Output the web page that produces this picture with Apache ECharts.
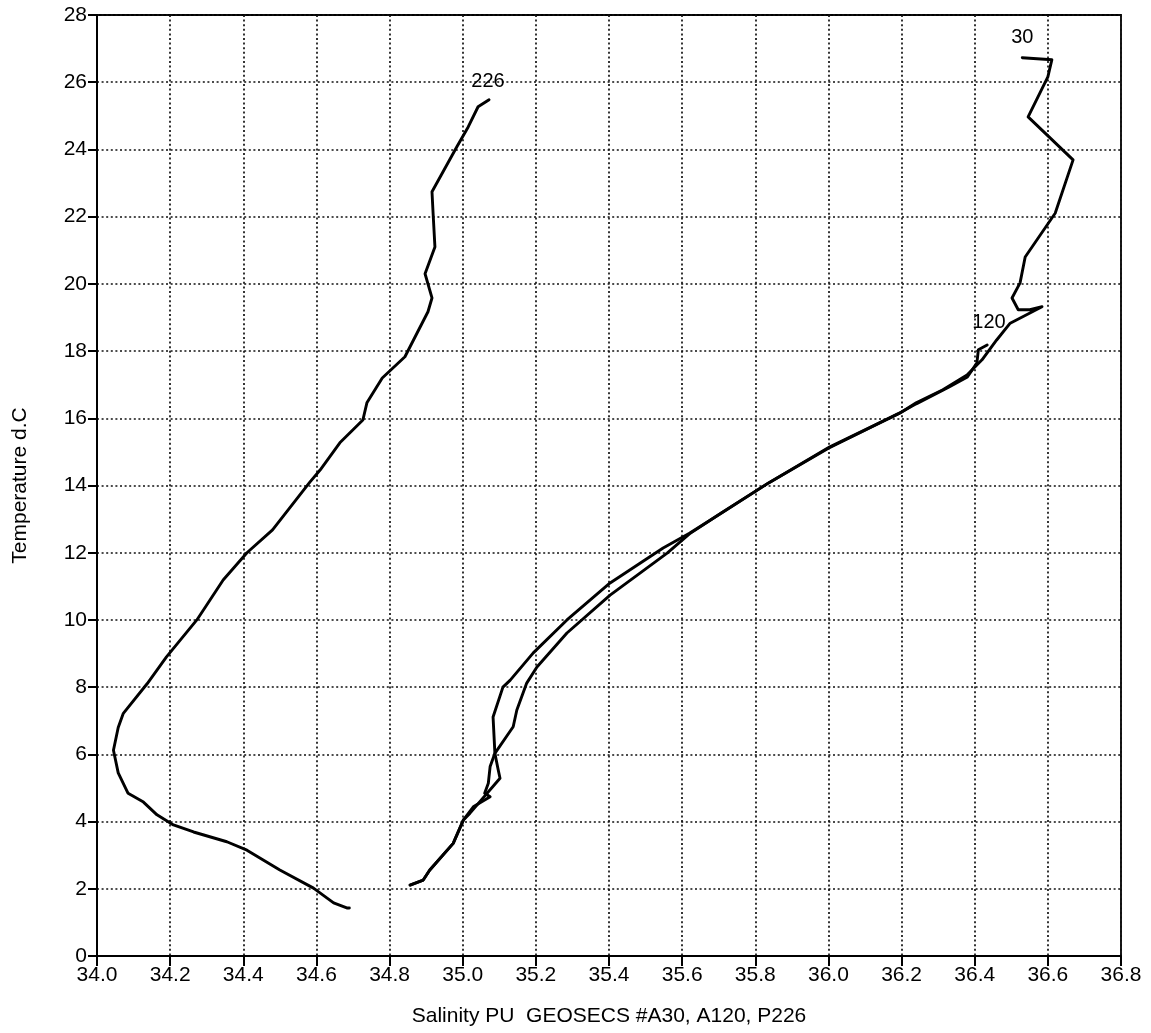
<!DOCTYPE html>
<html>
<head>
<meta charset="utf-8">
<script src="https://cdn.jsdelivr.net/npm/echarts@6/dist/echarts.min.js"></script>
<style>html,body{margin:0;padding:0;background:#fff}#c{width:1151px;height:1033px}</style>
</head>
<body>
<div id="c"></div>
<script>
// Salinity (PU), Temperature (d.C) pairs
var stationA30 = [
  [36.53,26.73],[36.611,26.67],[36.60,26.16],[36.546,24.97],[36.669,23.69],[36.62,22.1],
  [36.538,20.8],[36.524,20.03],[36.502,19.58],[36.519,19.23],[36.551,19.23],[36.584,19.32],
  [36.497,18.83],[36.46,18.33],[36.42,17.74],[36.379,17.29],[36.313,16.85],[36.24,16.46],
  [36.196,16.16],[36.004,15.15],[35.84,14.1],[35.712,13.21],[35.62,12.58],[35.548,12.14],
  [35.403,11.1],[35.285,10.0],[35.193,9.02],[35.13,8.21],[35.11,8.0],[35.083,7.11],
  [35.088,6.03],[35.097,5.54],[35.102,5.29],[35.02,4.25],[35.002,4.05],[34.974,3.35],
  [34.91,2.56],[34.892,2.26],[34.856,2.11]
];
var stationA120 = [
  [36.434,18.18],[36.41,18.04],[36.406,17.65],[36.38,17.23],[36.33,16.93],[36.24,16.43],
  [36.19,16.13],[36.0,15.11],[35.835,14.07],[35.707,13.18],[35.62,12.56],[35.559,11.99],
  [35.403,10.74],[35.285,9.61],[35.203,8.6],[35.175,8.12],[35.148,7.32],[35.138,6.82],
  [35.088,6.03],[35.075,5.64],[35.07,5.14],[35.06,4.84],[35.075,4.74],[35.029,4.44],
  [35.002,4.05],[34.974,3.35],[34.91,2.56],[34.892,2.26],[34.856,2.11]
];
var stationP226 = [
  [34.69,1.43],[34.683,1.43],[34.647,1.58],[34.592,2.02],[34.5,2.56],[34.41,3.15],[34.355,3.4],
  [34.264,3.69],[34.209,3.9],[34.164,4.2],[34.127,4.58],[34.085,4.84],[34.058,5.45],
  [34.045,6.12],[34.058,6.8],[34.072,7.22],[34.137,8.1],[34.19,8.9],[34.273,10.0],
  [34.345,11.19],[34.41,12.0],[34.48,12.68],[34.582,14.1],[34.61,14.46],[34.664,15.27],
  [34.727,15.95],[34.738,16.46],[34.78,17.2],[34.842,17.83],[34.905,19.17],[34.916,19.58],
  [34.897,20.3],[34.924,21.1],[34.919,22.1],[34.916,22.74],[34.984,24.08],[35.015,24.67],
  [35.042,25.27],[35.072,25.48]
];
var stationLabels = [
  {name:'30', value:[36.53,27.32]},
  {name:'120', value:[36.439,18.84]},
  {name:'226', value:[35.069,26.01]}
];
var xTitle = 'Salinity PU  GEOSECS #A30, A120, P226';
var yTitle = 'Temperature d.C';

var font = 'Liberation Sans, Arial, sans-serif';
var chart = echarts.init(document.getElementById('c'));
function lineSeries(name, data){
  return {name:name, type:'line', data:data, showSymbol:false, symbol:'none',
    lineStyle:{color:'#000', width:2.9, join:'round', cap:'round'}, z:5, animation:false};
}
chart.setOption({
  animation:false,
  grid:{left:97, right:30, top:15, bottom:77, show:true, borderColor:'#000', borderWidth:1.8},
  xAxis:{type:'value', min:34, max:36.8, interval:0.2,
    name:xTitle, nameLocation:'middle', nameGap:50,
    nameTextStyle:{color:'#000', fontSize:21, fontFamily:font},
    axisLine:{show:true, lineStyle:{color:'#000', width:2}},
    axisTick:{show:true, length:10, lineStyle:{color:'#000', width:2}},
    axisLabel:{color:'#000', fontSize:21, fontFamily:font, margin:9,
      formatter:function(v){return v.toFixed(1);}},
    splitLine:{show:true, lineStyle:{color:'#111', width:1.7, type:[2,2.6]}}
  },
  yAxis:{type:'value', min:0, max:28, interval:2,
    name:yTitle, nameLocation:'middle', nameGap:66, nameRotate:90,
    nameTextStyle:{color:'#000', fontSize:21, fontFamily:font},
    axisLine:{show:true, lineStyle:{color:'#000', width:2}},
    axisTick:{show:true, length:9, lineStyle:{color:'#000', width:2}},
    axisLabel:{color:'#000', fontSize:21, fontFamily:font, margin:10},
    splitLine:{show:true, lineStyle:{color:'#111', width:1.7, type:[2,2.6]}}
  },
  series:[
    lineSeries('A30', stationA30),
    lineSeries('A120', stationA120),
    lineSeries('P226', stationP226),
    {type:'scatter', data:stationLabels, symbolSize:1, z:6,
      itemStyle:{opacity:1, color:'rgba(0,0,0,0)'},
      label:{show:true, position:'inside', formatter:'{b}', color:'#000', opacity:1,
        fontSize:20, fontFamily:font, textBorderWidth:0}}
  ]
});
</script>
</body>
</html>
